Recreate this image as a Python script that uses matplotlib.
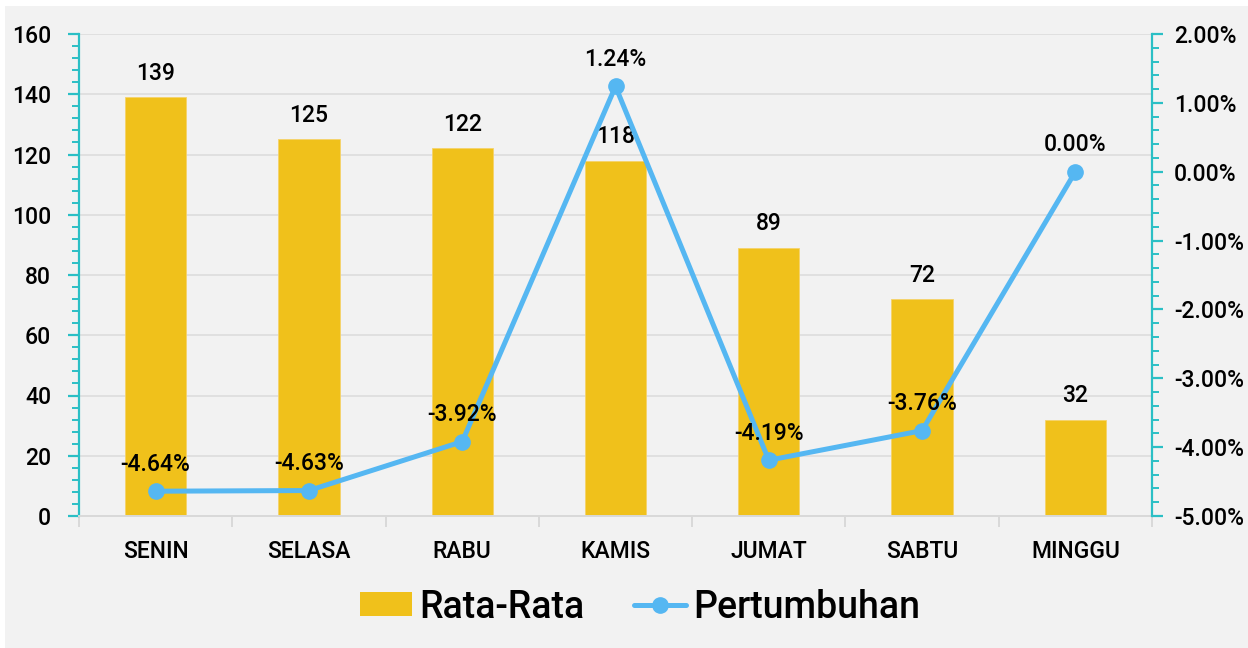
import matplotlib.pyplot as plt
from matplotlib.lines import Line2D
from matplotlib.patches import Patch, Rectangle
from matplotlib.ticker import MultipleLocator, FuncFormatter

DAYS = ["SENIN", "SELASA", "RABU", "KAMIS", "JUMAT", "SABTU", "MINGGU"]
AVERAGE = [139, 125, 122, 118, 89, 72, 32]
GROWTH = [-4.64, -4.63, -3.92, 1.24, -4.19, -3.76, 0.00]

BAR_COLOR = "#F0C11B"
LINE_COLOR = "#55B7F2"
TEAL = "#2BBFC5"
BG = "#F2F2F2"
FS = 16.5

plt.rcParams["font.family"] = ["Roboto", "DejaVu Sans"]
plt.rcParams["font.weight"] = "medium"

fig = plt.figure(figsize=(12.48, 6.48), dpi=100, facecolor="white")
fig.patches.append(
    Rectangle((5 / 1248, 0), 1 - 5 / 1248, 1 - 6 / 648,
              transform=fig.transFigure, facecolor=BG, edgecolor="none", zorder=-10)
)

ax = fig.add_axes([79 / 1248, 1 - 516 / 648, (1152 - 79) / 1248, (516 - 34) / 648])
ax.set_facecolor("none")
x = list(range(len(DAYS)))
ax.bar(x, AVERAGE, width=0.4, color=BAR_COLOR, edgecolor="#F5D36A",
       linewidth=0.6, zorder=2)
ax.set_xlim(-0.5, len(DAYS) - 0.5)
ax.set_ylim(0, 160)
ax.yaxis.set_major_locator(MultipleLocator(20))
ax.yaxis.set_minor_locator(MultipleLocator(4))
ax.grid(axis="y", color="#E0E0E0", linewidth=1.4, zorder=0)
ax.set_axisbelow(True)

for s in ("top", "right"):
    ax.spines[s].set_visible(False)
ax.spines["left"].set_color(TEAL)
ax.spines["left"].set_linewidth(1.6)
ax.spines["bottom"].set_color("#D9D9D9")
ax.spines["bottom"].set_linewidth(1.4)

ax.tick_params(axis="y", which="major", direction="out", length=8, width=1.6,
               color=TEAL, labelsize=FS, pad=12)
ax.tick_params(axis="y", which="minor", direction="out", length=5, width=1.4,
               color=TEAL)
ax.set_xticks(x)
ax.set_xticklabels(DAYS)
ax.set_xticks([i + 0.5 for i in range(-1, len(DAYS))], minor=True)
ax.tick_params(axis="x", which="major", length=0, labelsize=FS, pad=17)
ax.tick_params(axis="x", which="minor", length=8, width=1.4, color="#D9D9D9")

for xi, v in zip(x, AVERAGE):
    ax.annotate(f"{v}", (xi, v), xytext=(0, 9), textcoords="offset points",
                ha="center", va="bottom", fontsize=FS)

ax2 = ax.twinx()
ax2.set_facecolor("none")
ax2.set_ylim(-5, 2)
ax2.yaxis.set_major_locator(MultipleLocator(1))
ax2.yaxis.set_minor_locator(MultipleLocator(0.2))
ax2.yaxis.set_major_formatter(FuncFormatter(lambda v, _: f"{v:.2f}%"))
for s in ("top", "left", "bottom"):
    ax2.spines[s].set_visible(False)
ax2.spines["right"].set_color(TEAL)
ax2.spines["right"].set_linewidth(1.6)
ax2.tick_params(axis="y", which="major", direction="out", length=8, width=1.6,
                color=TEAL, labelsize=FS, pad=8)
ax2.tick_params(axis="y", which="minor", direction="out", length=5, width=1.4,
                color=TEAL)

ax2.plot(x, GROWTH, color=LINE_COLOR, linewidth=3.6, marker="o", markersize=11,
         solid_capstyle="round", zorder=3)
for xi, v in zip(x, GROWTH):
    ax2.annotate(f"{v:.2f}%", (xi, v), xytext=(0, 11), textcoords="offset points",
                 ha="center", va="bottom", fontsize=FS)

handles = [
    Patch(facecolor=BAR_COLOR, edgecolor="none"),
    Line2D([], [], color=LINE_COLOR, linewidth=3.6, marker="o", markersize=11,
           solid_capstyle="round"),
]
fig.legend(handles, ["Rata-Rata", "Pertumbuhan"], loc="center",
           bbox_to_anchor=(0.513, 1 - 607 / 648), ncol=2, frameon=False,
           fontsize=27, handlelength=1.4, handleheight=0.6, handletextpad=0.2,
           columnspacing=1.3)

fig.savefig("out.png", dpi=100, facecolor=fig.get_facecolor())
